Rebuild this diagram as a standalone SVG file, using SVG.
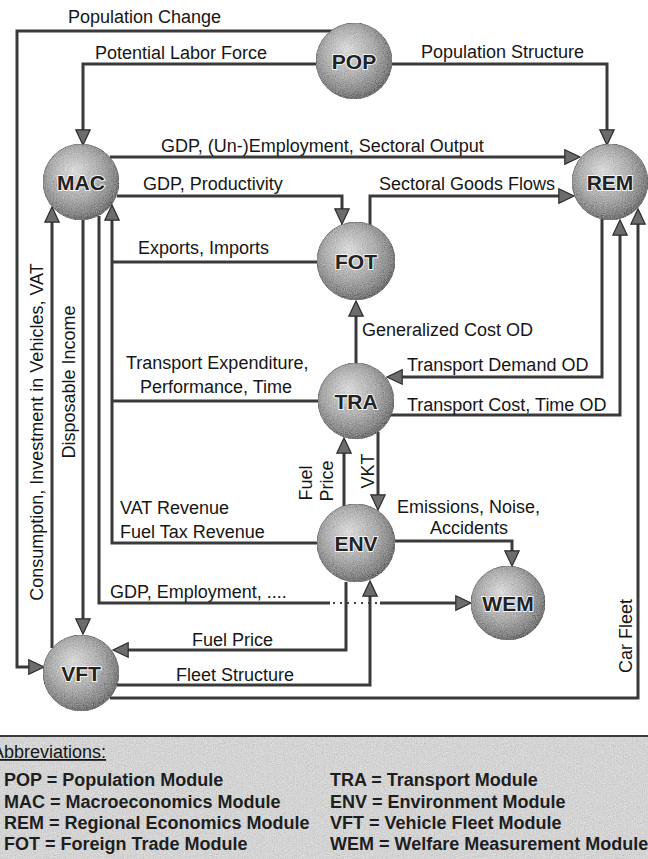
<svg xmlns="http://www.w3.org/2000/svg" width="648" height="859" viewBox="0 0 648 859">
<defs>
<style>
.lbl{font-family:"Liberation Sans",Arial,sans-serif;font-size:18px;fill:#161616}
.nl{font-family:"Liberation Sans",Arial,sans-serif;font-weight:bold;font-size:21px;fill:#222;stroke:#f4f4f4;stroke-width:2;paint-order:stroke;text-anchor:middle}
.ln{fill:none;stroke:#3a3a3a;stroke-width:3;stroke-linejoin:miter;stroke-miterlimit:10}
.arr{marker-end:url(#ah)}
.dot{fill:none;stroke:#444;stroke-width:2;stroke-dasharray:2 5}
.sph{fill:url(#sg);stroke:#707070;stroke-width:0.8;filter:url(#grain)}
.leg{font-family:"Liberation Sans",Arial,sans-serif;font-weight:bold;font-size:18px;fill:#1e1e1e}
</style>
<radialGradient id="sg" cx="0.45" cy="0.42" r="0.6" fx="0.4" fy="0.35">
<stop offset="0" stop-color="#dcdcdc"/>
<stop offset="0.55" stop-color="#adadad"/>
<stop offset="0.85" stop-color="#888"/>
<stop offset="1" stop-color="#6a6a6a"/>
</radialGradient>
<filter id="grain" x="0" y="0" width="100%" height="100%">
<feTurbulence type="fractalNoise" baseFrequency="0.9" numOctaves="2" seed="3" result="n"/>
<feColorMatrix in="n" type="matrix" values="0.33 0.33 0.33 0 0 0.33 0.33 0.33 0 0 0.33 0.33 0.33 0 0 0 0 0 0 1" result="g"/>
<feComposite in="g" in2="SourceGraphic" operator="arithmetic" k1="0" k2="0.6" k3="1" k4="-0.3" result="m"/>
<feComposite in="m" in2="SourceGraphic" operator="in"/>
</filter>
<marker id="ah" viewBox="0 0 16 16" refX="4" refY="8" markerWidth="16" markerHeight="16" markerUnits="userSpaceOnUse" orient="auto" overflow="visible">
<path d="M0.8,0.8 L16,8 L0.8,15.2 Z" fill="#6c6c6c" stroke="#2c2c2c" stroke-width="1.2" stroke-linejoin="miter"/>
</marker>
</defs>
<rect x="0" y="0" width="648" height="859" fill="#ffffff"/>

<g id="connectors">
<polyline class="ln arr" points="332,31 17,31 17,667 32,667"/>
<polyline class="ln arr" points="316,64 83,64 83,133"/>
<polyline class="ln arr" points="392,64 607,64 607,133"/>
<polyline class="ln arr" points="110,157 568,157"/>
<polyline class="ln arr" points="117,196 342,196 342,212"/>
<polyline class="ln arr" points="370,225 370,196 562,196"/>
<polyline class="ln" points="317,262 112,262"/>
<polyline class="ln" points="318,401 112,401"/>
<polyline class="ln arr" points="317,543 112,543 112,217"/>
<polyline class="ln arr" points="356,363 356,313"/>
<polyline class="ln arr" points="602,219 602,377 399,377"/>
<polyline class="ln arr" points="390,415 620,415 620,232"/>
<polyline class="ln arr" points="110,698 638,698 638,221"/>
<polyline class="ln arr" points="344,506 344,450"/>
<polyline class="ln arr" points="378,432 378,498"/>
<polyline class="ln arr" points="395,541 512,541 512,554"/>
<polyline class="ln arr" points="52,648 52,219"/>
<polyline class="ln arr" points="83,220 83,622"/>
<polyline class="ln" points="99,216 99,603 330,603"/>
<line class="dot" x1="333" y1="603" x2="378" y2="603"/>
<polyline class="ln arr" points="380,603 459,603"/>
<polyline class="ln arr" points="346,582 346,650 125,650"/>
<polyline class="ln arr" points="117,685 370,685 370,593"/>
</g>

<g id="labels">
<text class="lbl" x="68" y="23">Population Change</text>
<text class="lbl" x="95" y="59">Potential Labor Force</text>
<text class="lbl" x="421" y="58">Population Structure</text>
<text class="lbl" x="161" y="152">GDP, (Un-)Employment, Sectoral Output</text>
<text class="lbl" x="143" y="190">GDP, Productivity</text>
<text class="lbl" x="379" y="190">Sectoral Goods Flows</text>
<text class="lbl" x="138" y="254">Exports, Imports</text>
<text class="lbl" x="362" y="336">Generalized Cost OD</text>
<text class="lbl" x="126" y="369">Transport Expenditure,</text>
<text class="lbl" x="140" y="393">Performance, Time</text>
<text class="lbl" x="407" y="371">Transport Demand OD</text>
<text class="lbl" x="407" y="411">Transport Cost, Time OD</text>
<text class="lbl" x="120" y="514">VAT Revenue</text>
<text class="lbl" x="120" y="538">Fuel Tax Revenue</text>
<text class="lbl" x="397" y="513">Emissions, Noise,</text>
<text class="lbl" x="430" y="534">Accidents</text>
<text class="lbl" x="110" y="598">GDP, Employment, ....</text>
<text class="lbl" x="192" y="646">Fuel Price</text>
<text class="lbl" x="176" y="681">Fleet Structure</text>
<text class="lbl" text-anchor="middle" transform="translate(36,432) rotate(-90)" y="6.5">Consumption, Investment in Vehicles, VAT</text>
<text class="lbl" text-anchor="middle" transform="translate(68,382) rotate(-90)" y="6.5">Disposable Income</text>
<text class="lbl" text-anchor="middle" transform="translate(625,636) rotate(-90)" y="6.5">Car Fleet</text>
<text class="lbl" text-anchor="middle" transform="translate(305,483) rotate(-90)" y="6.5">Fuel</text>
<text class="lbl" text-anchor="middle" transform="translate(326,481) rotate(-90)" y="6.5">Price</text>
<text class="lbl" text-anchor="middle" transform="translate(367,471) rotate(-90)" y="6.5">VKT</text>
</g>

<g id="POP"><circle class="sph" cx="354" cy="61" r="38"/><text class="nl" x="354" y="69">POP</text></g>
<g id="MAC"><circle class="sph" cx="81" cy="182" r="38"/><text class="nl" x="81" y="190">MAC</text></g>
<g id="REM"><circle class="sph" cx="610" cy="182" r="38"/><text class="nl" x="610" y="190">REM</text></g>
<g id="FOT"><circle class="sph" cx="356" cy="261" r="39"/><text class="nl" x="356" y="269">FOT</text></g>
<g id="TRA"><circle class="sph" cx="356" cy="401" r="38"/><text class="nl" x="356" y="409">TRA</text></g>
<g id="ENV"><circle class="sph" cx="356" cy="543" r="39"/><text class="nl" x="356" y="551">ENV</text></g>
<g id="WEM"><circle class="sph" cx="508" cy="603" r="37"/><text class="nl" x="508" y="611">WEM</text></g>
<g id="VFT"><circle class="sph" cx="81" cy="673" r="38"/><text class="nl" x="81" y="681">VFT</text></g>

<g id="legend">
<rect x="0" y="736" width="648" height="123" fill="#d4d4d4" filter="url(#grain)"/>
<line x1="0" y1="736" x2="648" y2="736" stroke="#3a3a3a" stroke-width="2"/>
<text class="lbl" x="-8" y="758" text-decoration="underline">Abbreviations:</text>
<text class="leg" x="4" y="786">POP = Population Module</text>
<text class="leg" x="4" y="808">MAC = Macroeconomics Module</text>
<text class="leg" x="4" y="829">REM = Regional Economics Module</text>
<text class="leg" x="4" y="850">FOT = Foreign Trade Module</text>
<text class="leg" x="330" y="786">TRA = Transport Module</text>
<text class="leg" x="330" y="808">ENV = Environment Module</text>
<text class="leg" x="330" y="829">VFT = Vehicle Fleet Module</text>
<text class="leg" x="330" y="850">WEM = Welfare Measurement Module</text>
</g>
</svg>
